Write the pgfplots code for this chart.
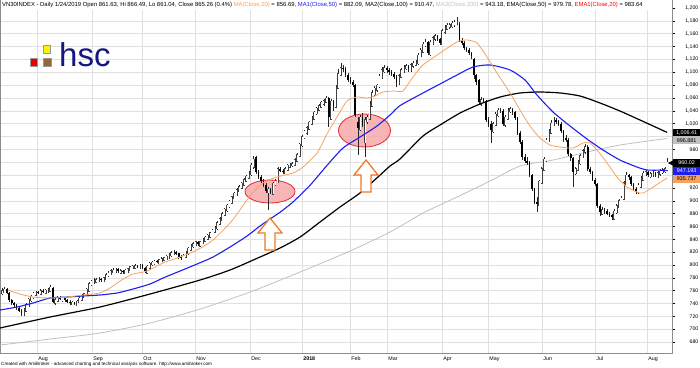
\documentclass[border=0pt]{standalone}
\usepackage{pgfplots}
\pgfplotsset{compat=1.18}
\usepackage{pgfplotstable}
\usepackage{fontspec}
\setmainfont{Liberation Sans}
\definecolor{maorange}{RGB}{246,162,94}
\definecolor{mablue}{RGB}{30,30,240}
\definecolor{magray}{RGB}{192,192,192}
\definecolor{logonavy}{RGB}{22,22,128}
\definecolor{ellred}{RGB}{228,40,50}
\definecolor{ellfill}{RGB}{246,168,168}
\definecolor{arrorange}{RGB}{240,120,40}
\definecolor{upgreen}{RGB}{0,160,0}

\pgfplotstableread{
i o h l c
0 755 764 753 760
1 757 765 756 762
2 762 764 754 757
3 757 758 742 745
4 745 747 737 740
5 740 742 734 737
6 737 739 730 733
7 733 735 726 729
8 729 731 721 725
9 722 733 721 731
10 728 740 727 738
11 735 749 734 747
12 744 753 743 751
13 748 758 747 756
14 753 760 752 758
15 758 760 755 757
16 754 762 753 760
17 760 762 757 759
18 756 763 755 761
19 758 764 757 762
20 759 768 758 765
21 764 765 741 743
22 740 748 738 746
23 743 751 742 749
24 749 751 745 747
25 744 750 743 748
26 748 749 743 745
27 745 747 741 743
28 743 745 738 741
29 738 744 737 742
30 742 743 737 739
31 736 746 736 744
32 741 750 740 748
33 745 754 744 752
34 749 757 748 755
35 752 764 752 762
36 759 773 759 771
37 768 777 767 775
38 772 779 771 776
39 773 780 772 777
40 774 781 773 778
41 778 780 774 777
42 774 782 773 780
43 777 787 777 785
44 782 790 781 788
45 785 793 784 791
46 788 795 787 792
47 789 796 788 793
48 793 795 788 790
49 787 793 786 791
50 791 792 786 789
51 786 794 786 792
52 789 796 788 794
53 791 799 790 797
54 794 800 793 798
55 795 801 794 799
56 799 800 795 797
57 794 802 793 800
58 800 801 794 796
59 796 797 787 790
60 787 800 787 798
61 795 805 794 803
62 800 806 799 804
63 801 808 800 806
64 806 807 803 805
65 802 810 801 808
66 805 812 804 810
67 807 813 806 811
68 808 816 807 814
69 811 819 810 817
70 814 822 813 819
71 816 823 815 820
72 820 821 815 818
73 818 819 810 813
74 813 815 808 811
75 808 817 807 815
76 812 822 811 820
77 817 828 816 826
78 823 833 822 831
79 828 836 827 833
80 830 838 829 836
81 836 837 829 832
82 829 838 828 836
83 833 842 832 840
84 837 845 836 843
85 840 848 839 846
86 843 852 842 850
87 847 856 846 854
88 851 861 850 859
89 856 868 855 866
90 863 874 862 872
91 869 882 868 880
92 877 889 876 887
93 884 895 883 893
94 890 901 889 899
95 896 908 895 906
96 903 914 902 912
97 909 919 908 917
98 914 924 913 922
99 919 929 918 927
100 924 935 923 933
101 930 940 929 938
102 935 946 934 943
103 940 958 939 955
104 952 970 950 965
105 968 970 942 945
106 945 948 934 937
107 937 940 928 931
108 931 934 921 925
109 925 928 912 915
110 912 922 885 918
111 918 920 910 913
112 910 929 909 927
113 924 934 923 931
114 928 952 927 950
115 950 953 944 947
116 947 949 942 945
117 942 952 941 950
118 947 957 946 955
119 952 959 951 957
120 954 960 952 958
121 955 966 954 964
122 961 974 960 972
123 969 990 968 988
124 985 1002 984 1000
125 997 1010 996 1008
126 1005 1016 1003 1014
127 1011 1024 1010 1022
128 1019 1032 1018 1030
129 1027 1040 1026 1038
130 1035 1046 1034 1044
131 1041 1050 1040 1048
132 1045 1055 1044 1053
133 1050 1058 1048 1056
134 1053 1063 1052 1060
135 1060 1062 1015 1030
136 1027 1058 1026 1055
137 1055 1057 1040 1048
138 1045 1080 1044 1078
139 1075 1105 1074 1098
140 1095 1114 1094 1107
141 1107 1112 1100 1105
142 1105 1108 1092 1096
143 1096 1099 1085 1088
144 1088 1092 1082 1085
145 1085 1088 1077 1080
146 1080 1082 1030 1033
147 1022 1030 971 1013
148 1010 1033 1008 1030
149 1030 1036 1015 1018
150 990 1030 968 1026
151 1023 1034 1020 1030
152 1027 1055 1026 1050
153 1047 1072 1046 1068
154 1065 1079 1063 1075
155 1072 1082 1070 1080
156 1077 1097 1076 1094
157 1091 1108 1090 1104
158 1101 1112 1099 1107
159 1107 1110 1099 1103
160 1103 1106 1096 1100
161 1100 1104 1094 1098
162 1098 1100 1089 1093
163 1093 1095 1077 1085
164 1082 1098 1080 1095
165 1092 1107 1091 1104
166 1101 1111 1099 1108
167 1105 1113 1103 1110
168 1110 1112 1101 1105
169 1102 1115 1101 1112
170 1109 1117 1107 1114
171 1111 1119 1109 1116
172 1113 1130 1112 1127
173 1124 1137 1123 1134
174 1131 1147 1130 1144
175 1141 1151 1139 1147
176 1147 1149 1127 1130
177 1127 1150 1126 1147
178 1144 1157 1143 1154
179 1151 1160 1149 1157
180 1157 1158 1149 1152
181 1152 1154 1143 1146
182 1143 1168 1142 1165
183 1162 1173 1160 1170
184 1167 1176 1166 1173
185 1170 1177 1168 1174
186 1171 1179 1169 1176
187 1173 1181 1171 1178
188 1175 1186 1174 1181
189 1175 1178 1147 1150
190 1150 1153 1142 1145
191 1145 1148 1135 1138
192 1138 1140 1131 1134
193 1134 1137 1127 1130
194 1130 1132 1120 1125
195 1120 1122 1090 1095
196 1095 1098 1080 1085
197 1088 1090 1050 1053
198 1050 1062 1048 1057
199 1057 1060 1052 1055
200 1055 1057 1023 1026
201 1026 1030 1015 1020
202 1020 1024 990 1010
203 1007 1023 1006 1020
204 1017 1038 1016 1035
205 1032 1045 1031 1041
206 1041 1044 1036 1040
207 1040 1042 1017 1020
208 1017 1033 1015 1030
209 1027 1044 1026 1041
210 1038 1046 1036 1043
211 1043 1045 1033 1038
212 1038 1040 1025 1028
213 1028 1030 1002 1005
214 1005 1008 988 992
215 992 995 964 968
216 968 972 958 962
217 962 968 956 960
218 960 962 937 940
219 940 942 915 918
220 918 920 895 898
221 898 905 882 895
222 892 933 891 930
223 927 953 926 950
224 947 968 946 965
225 962 998 961 995
226 992 1012 991 1008
227 1005 1026 1004 1021
228 1018 1030 1016 1025
229 1025 1028 1019 1024
230 1024 1026 1016 1020
231 1020 1022 1005 1008
232 1008 1010 991 998
233 998 1003 992 995
234 995 997 969 972
235 972 975 962 966
236 966 968 921 945
237 942 953 940 950
238 947 963 946 960
239 957 973 956 970
240 967 981 966 978
241 975 988 973 984
242 984 986 947 950
243 950 953 942 945
244 945 947 930 933
245 933 935 923 926
246 926 928 889 892
247 892 895 876 882
248 879 890 877 886
249 886 889 880 884
250 884 887 877 880
251 880 883 875 878
252 878 880 870 874
253 871 887 870 884
254 881 895 880 892
255 889 903 888 900
256 897 908 896 905
257 902 931 901 928
258 925 944 924 940
259 940 942 933 937
260 937 939 923 926
261 926 928 915 918
262 918 921 911 915
263 912 927 911 924
264 921 938 920 935
265 932 946 931 943
266 940 948 938 945
267 945 947 937 940
268 937 945 936 942
269 939 946 937 943
270 943 945 937 940
271 937 947 936 944
272 941 949 939 946
273 943 951 941 948
274 945 953 943 950
275 947 966 946 960
}\bars

\begin{document}
\begin{tikzpicture}
\path[use as bounding box] (0pt,-14pt) rectangle (700pt,353pt);
\begin{axis}[
  at={(0pt,0pt)}, anchor=south west,
  scale only axis, width=672pt, height=353pt,
  xmin=0, xmax=672, ymin=662.9, ymax=1212.46,
  axis line style={draw=black!45, line width=0.5pt},
  clip mode=individual,
  xtick={37,92,142,195,250,302,350,387,442,488,542,595,647},
  xticklabels={Aug,Sep,Oct,Nov,Dec,\textbf{2018},Feb,Mar,Apr,May,Jun,Jul,Aug},
  x tick style={draw=none},
  xticklabel style={anchor=north west, inner sep=0pt, xshift=1.2pt, yshift=-1.3pt, font=\fontsize{5.3}{6}\selectfont},
  ytick={680,700,...,1200},
  yticklabels={680,700,720,740,760,780,800,820,840,860,880,900,920,{},{},980,{},{1,020},{1,040},{1,060},{1,080},{1,100},{1,120},{1,140},{1,160},{1,180},{1,200}},
  ytick pos=right, yticklabel pos=right, tick align=outside,
  y tick style={draw=black, line width=0.4pt}, major tick length=2.5pt,
  yticklabel style={anchor=east, inner sep=0pt, xshift=24pt, font=\fontsize{5.2}{6}\selectfont},
  grid=major, grid style={black!12, line width=0.4pt},
  candle/.style={draw=none, mark=none, forget plot},
]
% highlight ellipses (under the price bars)
\filldraw[draw=ellred, fill=ellfill, fill opacity=0.85, line width=0.8pt] (axis cs:270,914.3) ellipse [x radius=25pt, y radius=11.5pt];
\filldraw[draw=ellred, fill=ellfill, fill opacity=0.85, line width=0.8pt] (axis cs:364.5,1009.3) ellipse [x radius=26pt, y radius=16.5pt];

% MA200 grey
\addplot[no marks, smooth, tension=0.4, color=magray, line width=0.8pt] coordinates {
(0,675.3) (50,684.6) (100,694.0) (150,709.5) (200,731.3) (250,757.8) (300,788.9) (350,821.6) (390,851.2) (423,880.8) (457,905.7) (490,930.6) (520,954) (553,963.3) (587,975.8) (620,986.7) (667,996.9)};

% wicks
\addplot[candle, error bars/.cd, y dir=both, y explicit, error mark=none,
  error bar style={line width=0.45pt, draw=black!85}]
  table[x expr={2+2.42*\thisrow{i}}, y expr={(\thisrow{h}+\thisrow{l})/2}, y error expr={(\thisrow{h}-\thisrow{l})/2}] {\bars};
% black bodies (close < open)
\addplot[candle, restrict expr to domain={\thisrow{o}-\thisrow{c}}{0.5:2000},
  error bars/.cd, y dir=both, y explicit, error mark=none,
  error bar style={line width=1.7pt, draw=black}]
  table[x expr={2+2.42*\thisrow{i}}, y expr={(\thisrow{o}+\thisrow{c})/2}, y error expr={(\thisrow{o}-\thisrow{c})/2}] {\bars};
% white bodies (close >= open): outline then white interior
\addplot[candle, restrict expr to domain={\thisrow{c}-\thisrow{o}}{0:2000},
  error bars/.cd, y dir=both, y explicit, error mark=none,
  error bar style={line width=1.9pt, draw=black!75}]
  table[x expr={2+2.42*\thisrow{i}}, y expr={(\thisrow{o}+\thisrow{c})/2}, y error expr={(\thisrow{c}-\thisrow{o})/2+0.6}] {\bars};
\addplot[candle, restrict expr to domain={\thisrow{c}-\thisrow{o}}{0:2000},
  error bars/.cd, y dir=both, y explicit, error mark=none,
  error bar style={line width=1.0pt, draw=white}]
  table[x expr={2+2.42*\thisrow{i}}, y expr={(\thisrow{o}+\thisrow{c})/2}, y error expr={max((\thisrow{c}-\thisrow{o})/2-0.1,0.25)}] {\bars};

% MA100 black
\addplot[no marks, smooth, tension=0.4, color=black, line width=1.2pt] coordinates {
(0,701.8) (50,718.9) (100,734.5) (150,754.7) (200,776.5) (230,792.1) (260,812.3) (280,826.3) (300,843.4) (320,866.8) (340,890.2) (360,912.0) (378,937) (390,954) (400,965) (423,1000.7) (440,1017.8) (460,1036.5) (480,1050.5) (500,1061.4) (520,1067.7) (540,1069.2) (560,1067.7) (580,1063) (600,1052.1) (620,1039.6) (640,1025.6) (667,1006.4)};
% MA50 blue
\addplot[no marks, smooth, tension=0.4, color=mablue, line width=1.1pt] coordinates {
(0,729.8) (17,734.5) (33,740.7) (50,748.5) (67,750) (83,751.6) (100,753.2) (117,756.3) (133,762.5) (150,770.3) (163,779.6) (180,790.5) (197,801.4) (213,812.3) (230,827.9) (247,845) (260,860.6) (270,871.5) (280,882) (293,898) (310,924) (327,955) (343,982) (360,999.1) (377,1016.3) (390,1033.4) (400,1048) (423,1067.7) (440,1081.7) (457,1095.7) (473,1108.1) (490,1111.3) (510,1103.5) (525,1087.9) (537,1064.5) (553,1038.1) (570,1016.3) (587,996) (603,978.9) (620,963.3) (637,952.4) (647,947.8) (660,947.5) (667,947.2)};
% MA20 orange
\addplot[no marks, smooth, tension=0.4, color=maorange, line width=0.8pt] coordinates {
(8,760.9) (20,754.7) (33,750) (50,748.5) (67,750) (83,753.2) (100,756.3) (110,764) (117,771.8) (125,779.6) (133,785.8) (147,790.5) (163,803) (180,812.3) (197,823.2) (213,838.8) (230,865.3) (240,885.5) (250,907.3) (263,927.5) (277,936.9) (293,943.1) (303,952.4) (317,974.2) (327,1003.8) (337,1030.3) (347,1055.2) (357,1061.4) (367,1059.9) (375,1063) (383,1069.2) (395,1070.8) (403,1070.8) (413,1092.6) (423,1111.3) (440,1129.9) (457,1147.1) (467,1150.2) (477,1145.5) (487,1123.7) (497,1098.8) (510,1067.7) (520,1041.2) (530,1016.3) (540,997.6) (550,986.7) (560,983.6) (573,982) (583,989.8) (590,989.8) (597,978.9) (607,958.7) (617,936.9) (627,921.3) (637,913.5) (643,911.9) (653,921.3) (667,935.3)};

% up/down day markers along the bottom
\addplot[only marks, mark=-, mark size=0.55pt, mark options={line width=0.9pt, draw=upgreen}, restrict expr to domain={\thisrow{c}-\thisrow{o}}{0:2000}]
  table[x expr={2+2.42*\thisrow{i}}, y expr={652}] {\bars};
\addplot[only marks, mark=-, mark size=0.55pt, mark options={line width=0.9pt, draw=red}, restrict expr to domain={\thisrow{o}-\thisrow{c}}{0.5:2000}]
  table[x expr={2+2.42*\thisrow{i}}, y expr={652}] {\bars};
\end{axis}

% arrows
\filldraw[draw=arrorange, fill=white, line width=1.3pt, line join=miter]
  (270pt,135pt) -- (282pt,120pt) -- (275pt,120pt) -- (275pt,103pt) -- (265pt,103pt) -- (265pt,120pt) -- (258pt,120pt) -- cycle;
\filldraw[draw=arrorange, fill=white, line width=1.3pt, line join=miter]
  (366pt,193pt) -- (378pt,178pt) -- (371pt,178pt) -- (371pt,161pt) -- (361pt,161pt) -- (361pt,178pt) -- (354pt,178pt) -- cycle;

% header
\fill[white] (0.6pt,343pt) rectangle (671.6pt,352.6pt);
\node[anchor=west, inner sep=0pt, font=\fontsize{5.9}{7}\selectfont] at (2pt,348.3pt)
 {VN30INDEX - Daily 1/24/2019 Open 861.63, Hi 866.49, Lo 861.04, Close 865.26 (0.4\%) \textcolor{maorange}{MA(Close,20)} = 856.69, \textcolor{mablue}{MA1(Close,50)} = 882.09, MA2(Close,100) = 910.47, \textcolor{magray}{MA3(Close,200)} = 943.18, EMA(Close,50) = 979.78, \textcolor{red}{EMA1(Close,20)} = 983.64};

% logo
\fill[yellow, draw=black!40, line width=0.3pt] (43pt,300pt) rectangle (50pt,308pt);
\fill[red!90!black, draw=black!40, line width=0.3pt] (30pt,287pt) rectangle (37pt,295pt);
\fill[brown!80!black, draw=black!40, line width=0.3pt] (43pt,287pt) rectangle (51pt,295pt);
\node[anchor=base west, inner sep=0pt, text=logonavy, font=\fontsize{33}{33}\selectfont] at (59pt,286pt) {hsc};

% last-value boxes on the price scale
\begin{scope}[every node/.style={anchor=west, inner sep=0pt, minimum width=27pt, minimum height=7.8pt, font=\fontsize{5.4}{6}\selectfont}]
\node[fill=black, text=white] at (673pt,220.5pt) {1,006.41};
\node[fill=magray, text=black] at (673pt,212.6pt) {996.881};
\node[fill=black, text=white] at (673pt,190.0pt) {960.02};
\node[fill=mablue, text=white] at (673pt,182.1pt) {947.193};
\node[fill=maorange, text=black] at (673pt,174.3pt) {935.737};
\end{scope}
\fill[black] (668pt,190pt) -- (673pt,192.6pt) -- (673pt,187.4pt) -- cycle;

% footer
\node[anchor=west, inner sep=0pt, font=\fontsize{4.6}{5}\selectfont] at (1pt,-11.3pt)
 {Created with AmiBroker - advanced charting and technical analysis software. http://www.amibroker.com};
\end{tikzpicture}
\end{document}
